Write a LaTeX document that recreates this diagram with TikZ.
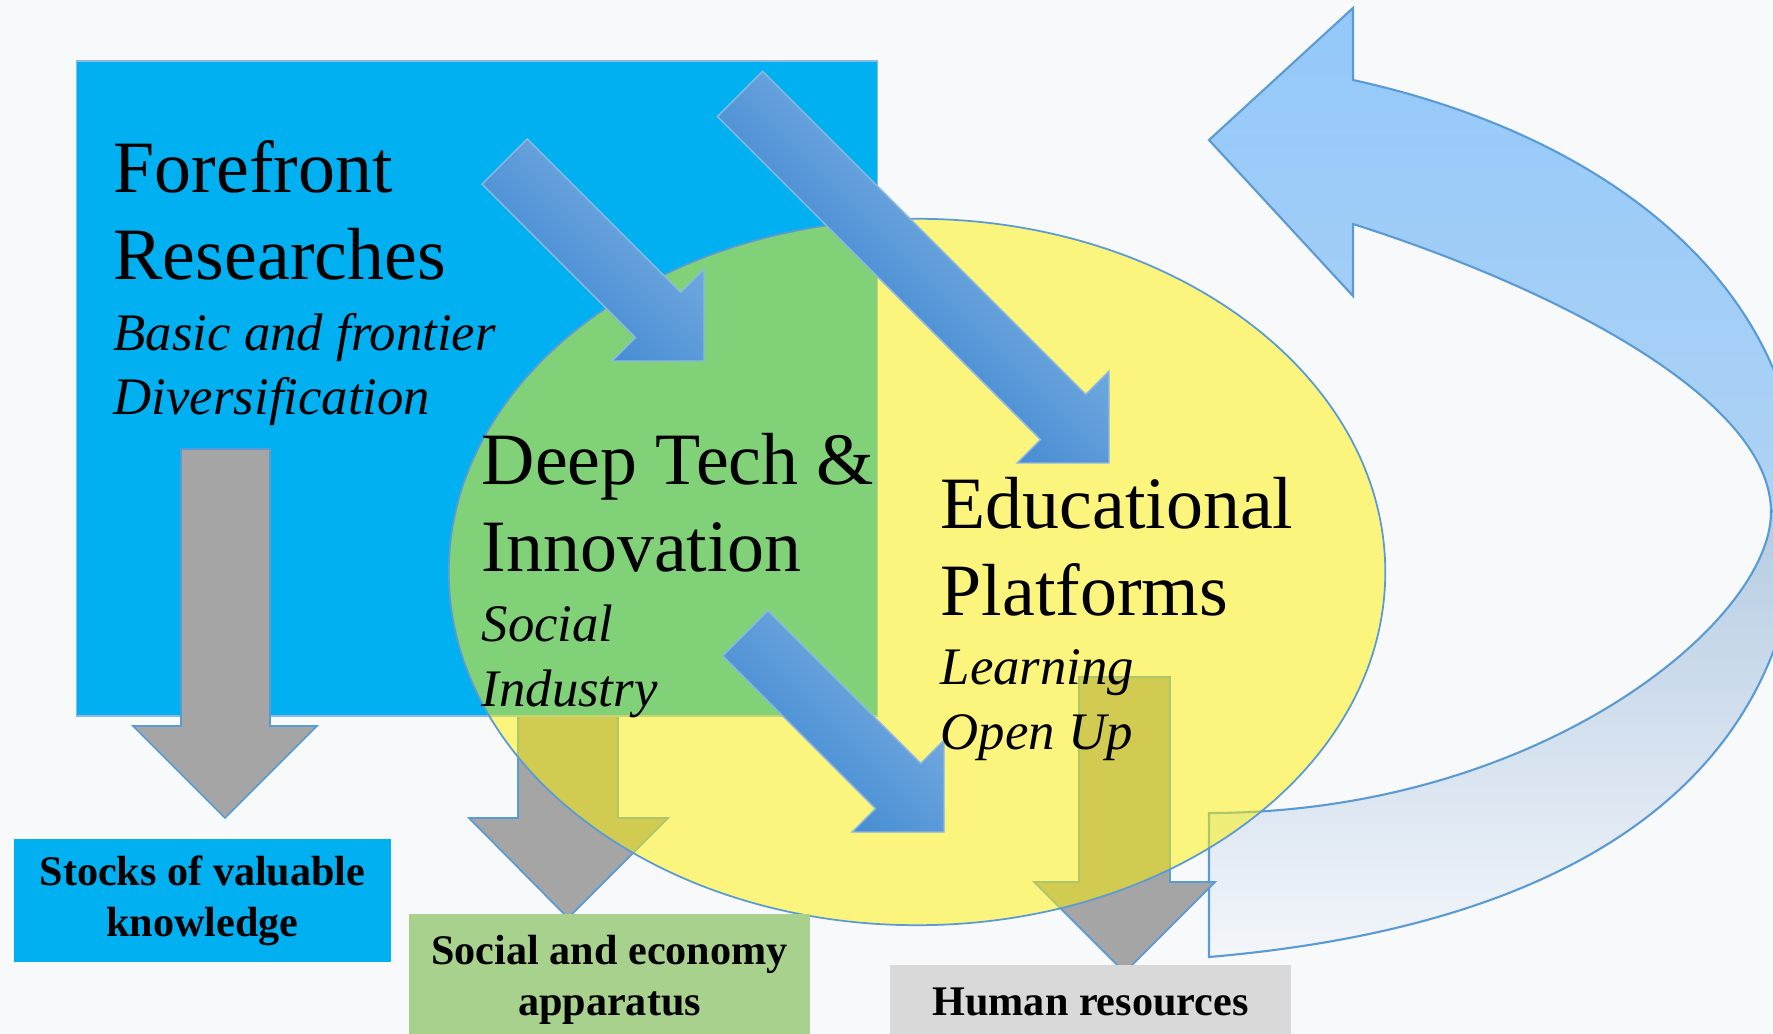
\documentclass[tikz,border=0pt]{standalone}
\usepackage{fontspec}
\setmainfont{Liberation Serif}
\usepackage{xcolor}
\usepackage{tikz}
\usetikzlibrary{shapes.geometric}

\definecolor{bgcol}{HTML}{F8F9FB}
\definecolor{rectblue}{HTML}{00B0F0}
\definecolor{edgeblue}{HTML}{5B9BD5}
\definecolor{arrowgray}{HTML}{A5A5A5}
\definecolor{diagdark}{HTML}{468CD3}
\definecolor{diaglight}{HTML}{70A8DE}
\definecolor{loopfront}{HTML}{93C8FA}
\definecolor{loopfrontlow}{HTML}{AED3F4}
\definecolor{loopback}{HTML}{B3CAE2}
\definecolor{loopbacklow}{HTML}{F3F6FA}
\definecolor{greenbox}{HTML}{A9D18E}
\definecolor{graybox}{HTML}{D9D9D9}

\begin{document}
\begin{tikzpicture}[
    x=0.01cm, y=-0.01cm,
    title/.style={anchor=base west, inner sep=0pt, align=left, font=\fontsize{21}{25}\selectfont},
    subtitle/.style={anchor=base west, inner sep=0pt, align=left, font=\fontsize{15}{18.2}\selectfont\itshape},
    outbox/.style={rectangle, inner sep=0pt, align=center, font=\fontsize{12}{14.5}\selectfont\bfseries},
    grayarrow/.style={fill=arrowgray, draw=edgeblue, line width=0.5pt},
    diagarrow/.style={top color=diaglight, bottom color=diagdark, draw=edgeblue!70, line width=0.4pt},
    loopedge/.style={draw=edgeblue, line width=0.6pt}
    ]

    \useasboundingbox (0,0) rectangle (1773,1034);
    \clip (0,0) rectangle (1773,1034);
    \fill[bgcol] (0,0) rectangle (1773,1034);

    % Curved feedback arrow, front band with head and back band
    \path[loopedge, top color=loopfront, bottom color=loopfrontlow]
        (1353,80) .. controls (1626.6,140) and (1800,300) .. (1800,500) -- (1771,512)
        .. controls (1771,400) and (1560,290) .. (1353,224)
        -- (1353,296) -- (1209,140) -- (1353,8) -- cycle;
    \path[loopedge, top color=loopback, bottom color=loopbacklow]
        (1800,500) .. controls (1800,740) and (1629,921) .. (1209,957) -- (1209,813)
        .. controls (1539,813) and (1771,622) .. (1771,512) -- cycle;

    % Gray arrow under the research box
    \draw[grayarrow] (518,700) -- (618,700) -- (618,818) -- (668,818) -- (568,918) -- (469,818) -- (518,818) -- cycle;

    % Research box
    \node (researchbox) [rectangle, minimum width=8cm, minimum height=6.55cm, inner sep=0pt,
        fill=rectblue, draw=edgeblue!70, line width=0.4pt] at (477,388.5) {};

    % Gray arrows to the outputs
    \draw[grayarrow] (181,449) -- (270,449) -- (270,726) -- (317,726) -- (225,818) -- (133,726) -- (181,726) -- cycle;
    \draw[grayarrow] (1079,677) -- (1170,677) -- (1170,882) -- (1215,882) -- (1124.5,972.5) -- (1034,882) -- (1079,882) -- cycle;

    % Platforms ellipse
    \node (platforms) [ellipse, minimum width=9.36cm, minimum height=7.06cm, inner sep=0pt,
        fill=yellow, fill opacity=0.5, draw=edgeblue, line width=0.5pt] at (917,572) {};

    % Blue arrows between the fields
    \begin{scope}[transform canvas={shift={(704,361)}, rotate=-45}]
        \path[diagarrow] (0,0) -- (-65,65) -- (-65,32) -- (-282,32) -- (-282,-32) -- (-65,-32) -- (-65,-65) -- cycle;
    \end{scope}
    \begin{scope}[transform canvas={shift={(1109,463)}, rotate=-45}]
        \path[diagarrow] (0,0) -- (-65,65) -- (-65,32) -- (-522,32) -- (-522,-32) -- (-65,-32) -- (-65,-65) -- cycle;
    \end{scope}
    \begin{scope}[transform canvas={shift={(944,832)}, rotate=-45}]
        \path[diagarrow] (0,0) -- (-65,65) -- (-65,32) -- (-281,32) -- (-281,-32) -- (-65,-32) -- (-65,-65) -- cycle;
    \end{scope}

    % Field labels (anchored on the last line)
    \node (forefront) [title] at (113,280) {Forefront\\Researches};
    \node (forefrontsub) [subtitle] at (113,415) {Basic and frontier\\Diversification};
    \node (deeptech) [title] at (481,572) {Deep Tech \&\\Innovation};
    \node (deeptechsub) [subtitle] at (481,706) {Social\\Industry};
    \node (educational) [title] at (940,616) {Educational\\Platforms};
    \node (educationalsub) [subtitle] at (940,749) {Learning\\Open Up};

    % Output boxes
    \node (stocks) [outbox, fill=rectblue, minimum width=3.77cm, minimum height=1.23cm] at (202.5,900.5) {Stocks of valuable\\knowledge};
    \node (apparatus) [outbox, fill=greenbox, minimum width=4.01cm, minimum height=1.31cm] at (609.5,979.5) {Social and economy\\apparatus};
    \node (human) [outbox, fill=graybox, minimum width=4.01cm, minimum height=0.73cm] at (1090.5,1001.5) {Human resources};
\end{tikzpicture}
\end{document}
